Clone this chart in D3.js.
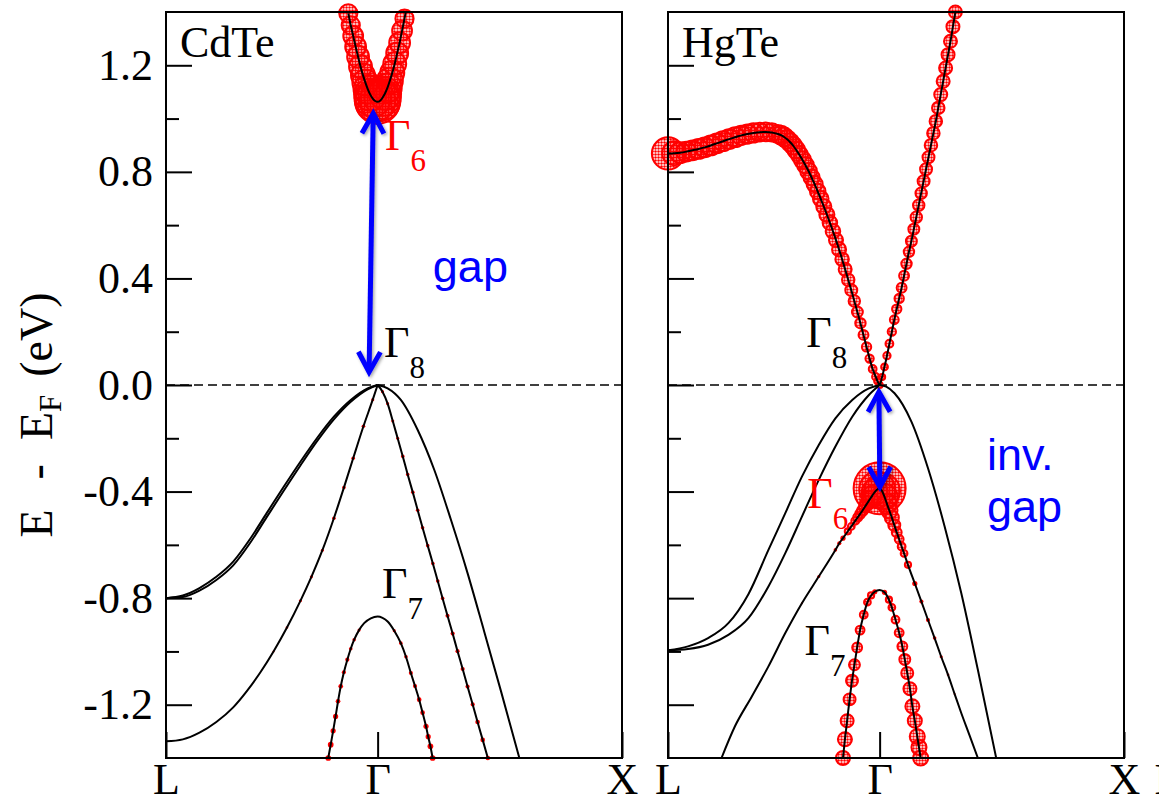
<!DOCTYPE html>
<html><head><meta charset="utf-8">
<script src="https://cdn.jsdelivr.net/npm/d3@7"></script>
<style>
body{margin:0;background:#fff}
svg{display:block}
.serif{font-family:"Liberation Serif","Times New Roman",serif}
.sans{font-family:"Liberation Sans",Arial,sans-serif}
</style></head><body>
<svg id="chart" width="1159" height="804"></svg>
<script>
// ---------------- data ----------------
const kPoints = [0, 0.866, 1.866];
const kLabels = ["L", "Γ", "X"];
const yMajor = [-1.2, -0.8, -0.4, 0, 0.4, 0.8, 1.2];
const yLabels = ["-1.2", "-0.8", "-0.4", "0.0", "0.4", "0.8", "1.2"];
const yMinor = [-1.0, -0.6, -0.2, 0.2, 0.6, 1.0];
const panelNames = ["CdTe", "HgTe"];

// CdTe conduction band (Γ6)
const cdteCB_k = [0.746,0.756,0.766,0.776,0.786,0.796,0.806,0.816,0.826,0.836,0.846,0.856,0.866,0.876,0.886,0.896,0.906,0.916,0.926,0.936,0.946,0.956,0.966,0.976,0.981];
const cdteCB_E = [1.395,1.35,1.31,1.27,1.232,1.195,1.163,1.135,1.11,1.09,1.075,1.066,1.063,1.067,1.078,1.094,1.115,1.142,1.172,1.206,1.245,1.285,1.33,1.375,1.40];
const cdteCB_w = [35,35,38,40,42,44,46,50,55,62,70,78,85,78,70,62,55,50,46,44,42,40,38,35,0];
// CdTe heavy holes (two nearly degenerate) L->Γ, and Γ->X
const cdteHH_k = [0,0.069,0.137,0.206,0.275,0.344,0.412,0.481,0.550,0.619,0.687,0.756,0.825,0.866];
const cdteHHa_E = [-0.80,-0.79,-0.762,-0.72,-0.663,-0.578,-0.481,-0.383,-0.288,-0.198,-0.119,-0.056,-0.0125,0];
const cdteHHb_E = [-0.80,-0.796,-0.772,-0.732,-0.677,-0.593,-0.496,-0.398,-0.302,-0.21,-0.129,-0.063,-0.016,0];
const cdteHHx_k = [0.866,0.907,0.961,1.030,1.098,1.166,1.234,1.302,1.371,1.446];
const cdteHHx_E = [0,-0.0125,-0.056,-0.169,-0.319,-0.506,-0.706,-0.925,-1.15,-1.40];
// CdTe light hole
const cdteLHl_k = [0,0.069,0.137,0.206,0.275,0.33,0.385,0.44,0.495,0.55,0.595,0.64,0.687,0.728,0.766,0.808,0.846,0.866];
const cdteLHl_E = [-1.3375,-1.33,-1.305,-1.265,-1.21,-1.15,-1.08,-1.0,-0.91,-0.81,-0.72,-0.62,-0.50,-0.385,-0.275,-0.155,-0.055,0];
const cdteLHl_w = [0,0,0,0,0,0,3,4,5,6,6,6,7,7,7,7,6,0];
const cdteLHx_k = [0.866,0.886,0.907,0.928,0.948,0.969,0.989,1.010,1.030,1.050,1.071,1.092,1.112,1.132,1.152,1.173,1.193,1.214,1.234,1.255,1.275,1.296,1.317];
const cdteLHx_E = [0,-0.025,-0.07,-0.135,-0.20,-0.268,-0.336,-0.403,-0.47,-0.536,-0.603,-0.67,-0.736,-0.801,-0.866,-0.933,-0.999,-1.066,-1.132,-1.199,-1.265,-1.332,-1.40];
const cdteLHx_w = [0,6,6,6,6,7,7,7,7,7,7,7,7,7,8,8,8,8,8,8,9,9,9];
// CdTe split-off (Γ7)
const cdteSO_k = [0.664,0.674,0.684,0.694,0.704,0.715,0.728,0.742,0.756,0.770,0.790,0.811,0.838,0.866,0.886,0.907,0.934,0.961,0.982,1.002,1.019,1.036,1.050,1.064,1.073,1.082,1.091];
const cdteSO_E = [-1.40,-1.35,-1.298,-1.244,-1.187,-1.131,-1.078,-1.031,-0.99,-0.956,-0.92,-0.894,-0.876,-0.869,-0.874,-0.8875,-0.922,-0.969,-1.02,-1.081,-1.13,-1.181,-1.23,-1.281,-1.32,-1.356,-1.40];
const cdteSO_w = [11,11,10,10,9,9,8,8,7,7,6,0,0,0,0,0,6,7,7,8,8,9,9,10,10,11,11];

// HgTe Γ8 conduction band, L->Γ and Γ->X
const hgteCBl_k = [0,0.025,0.05,0.075,0.10,0.125,0.15,0.175,0.20,0.225,0.25,0.275,0.30,0.325,0.35,0.375,0.40,0.425,0.45,
  0.4625,0.475,0.4875,0.50,0.5125,0.525,0.5375,0.55,0.5625,0.575,0.5875,0.60,0.6125,0.625,0.6375,0.65,0.6625,0.675,0.6875,0.70,0.7125,0.725,0.7375,0.75,0.7625,0.775,0.7875,0.80,0.8125,0.825,0.8375,0.85,0.8575,0.866];
const hgteCBl_E = [0.869,0.870,0.872,0.876,0.881,0.886,0.892,0.899,0.907,0.915,0.923,0.930,0.937,0.942,0.946,0.949,0.950,0.948,0.942,
  0.938,0.931,0.922,0.911,0.898,0.882,0.864,0.845,0.825,0.803,0.779,0.754,0.727,0.699,0.670,0.640,0.609,0.577,0.544,0.509,0.472,0.434,0.395,0.356,0.315,0.274,0.232,0.188,0.143,0.099,0.060,0.031,0.014,0];
const hgteCBl_w = [62,46,40,38,38,38,38,38,38,38,38,38,37,37,37,36,36,35,35,
  36,36,35,35,34,34,33,33,32,32,31,31,30,30,29,29,28,28,27,27,26,25,24,23,22,21,20,19,18,16,15,14,13,12];
const hgteCBr_k = [0.876,0.886,0.896,0.906,0.916,0.926,0.936,0.946,0.956,0.966,0.976,0.986,0.996,1.006,1.016,1.026,1.036,1.046,1.056,1.066,1.076,1.086,1.096,1.106,1.116,1.126,1.136,1.146,1.156,1.166,1.176];
const hgteCBr_E = [0.03,0.068,0.11,0.155,0.20,0.245,0.285,0.325,0.365,0.41,0.455,0.50,0.54,0.585,0.63,0.675,0.72,0.765,0.81,0.855,0.90,0.945,0.99,1.04,1.09,1.14,1.19,1.24,1.29,1.345,1.40];
const hgteCBr_w = [12,13,14,15,16,17,18,18,19,19,20,20,21,21,22,22,22,23,23,23,24,24,24,24,25,25,25,25,25,25,25];
// HgTe heavy holes
const hgteHH_k = [0,0.082,0.164,0.247,0.329,0.411,0.480,0.548,0.617,0.685,0.754,0.822,0.866];
const hgteHHa_E = [-0.996,-0.981,-0.950,-0.894,-0.785,-0.619,-0.481,-0.344,-0.225,-0.125,-0.056,-0.0125,0];
const hgteHHb_E = [-0.996,-0.991,-0.975,-0.938,-0.875,-0.756,-0.631,-0.494,-0.356,-0.231,-0.119,-0.0375,0];
const hgteHHx_k = [0.866,0.893,0.927,0.996,1.064,1.132,1.200,1.268,1.343];
const hgteHHx_E = [0,-0.006,-0.031,-0.1375,-0.3125,-0.531,-0.781,-1.069,-1.40];
// HgTe inverted Γ6 band
const hgteG6_k = [0.219,0.274,0.343,0.411,0.480,0.548,0.617,0.685,0.701,0.716,0.736,0.750,0.766,0.776,0.786,0.796,0.806,0.816,0.826,0.836,0.846,0.856,0.866,
  0.876,0.886,0.896,0.906,0.916,0.926,0.936,0.946,0.956,0.966,0.982,1.010,1.037,1.064,1.091,1.118,1.146,1.173,1.200,1.234,1.268];
const hgteG6_E = [-1.40,-1.281,-1.169,-1.056,-0.931,-0.819,-0.719,-0.619,-0.594,-0.575,-0.549,-0.531,-0.510,-0.497,-0.484,-0.471,-0.457,-0.443,-0.429,-0.415,-0.402,-0.392,-0.3875,
  -0.398,-0.420,-0.446,-0.472,-0.498,-0.526,-0.553,-0.579,-0.606,-0.632,-0.675,-0.745,-0.813,-0.882,-0.95,-1.02,-1.088,-1.16,-1.231,-1.315,-1.40];
const hgteG6_w = [0,0,0,0,0,4,6,7,8,10,12,13,15,17,19,21,23,27,31,38,50,69,100,
  69,50,38,31,27,23,19,17,15,13,12,10,8,8,7,6,5,4,0,0,0];
// HgTe split-off Γ7
const hgteG7_k = [0.716,0.724,0.733,0.743,0.753,0.763,0.774,0.786,0.801,0.816,0.831,0.846,0.866,
  0.886,0.904,0.916,0.931,0.946,0.959,0.969,0.979,0.990,1.000,1.010,1.020,1.027,1.034];
const hgteG7_E = [-1.40,-1.33,-1.26,-1.18,-1.11,-1.05,-0.985,-0.92,-0.862,-0.815,-0.79,-0.776,-0.769,
  -0.778,-0.806,-0.835,-0.881,-0.93,-0.981,-1.03,-1.081,-1.14,-1.206,-1.26,-1.319,-1.36,-1.40];
const hgteG7_w = [27,27,25,23,23,21,19,17,15,13,12,10,0,
  10,12,13,15,17,19,21,23,25,27,27,29,29,29];

// annotations (data coordinates)
const gammaSub   = ["6","8","7","8","6","7"];
const gammaPanel = [0,0,0,1,1,1];
const gammaK     = [0.896,0.892,0.884,0.566,0.570,0.559];
const gammaE     = [0.881,0.105,-0.80,0.144,-0.4625,-1.0125];
const noteText   = ["gap","inv.","gap"];
const notePanel  = [0,1,1];
const noteK      = [1.092,1.305,1.305];
const noteE      = [0.386,-0.319,-0.514];
const arrowPanel = [0,1];
const arrowK1 = [0.848,0.863], arrowE1 = [1.019,-0.026];
const arrowK2 = [0.831,0.867], arrowE2 = [0.049,-0.3825];

// ---------------- layout ----------------
const panelsPx = [[166,622],[668,1124]];
const topPx = 12, botPx = 758;
const svg = d3.select("#chart");
const y = d3.scaleLinear().domain([-1.4,1.4]).range([botPx, topPx]);
const xs = panelsPx.map(p => d3.scaleLinear().domain([0,1.866]).range(p));
const rScale = d3.scaleLinear().domain([0,100]).range([0,26]);
const RED = "#ff0000", BLUE = "#0000ff";

const defs = svg.append("defs");
const pat = defs.append("pattern").attr("id","dots").attr("patternUnits","userSpaceOnUse").attr("width",3).attr("height",3);
pat.append("circle").attr("cx",1.5).attr("cy",1.5).attr("r",1.25).attr("fill",RED);
const flt = defs.append("filter").attr("id","shadow").attr("x","-50%").attr("y","-20%").attr("width","200%").attr("height","140%");
flt.append("feDropShadow").attr("dx",1.5).attr("dy",1.5).attr("stdDeviation",1.5).attr("flood-color","#000").attr("flood-opacity",0.35);
panelsPx.forEach((p,i)=>{
  defs.append("clipPath").attr("id","clip"+i).append("rect")
    .attr("x",p[0]).attr("y",topPx).attr("width",p[1]-p[0]).attr("height",botPx-topPx);
});

function zip(k,e,w){ return k.map((kk,i)=>({k:kk,e:e[i],w:w?w[i]:0})); }

const bands = [
  [ zip(cdteCB_k,cdteCB_E,cdteCB_w), zip(cdteHH_k,cdteHHa_E), zip(cdteHH_k,cdteHHb_E), zip(cdteHHx_k,cdteHHx_E),
    zip(cdteLHl_k,cdteLHl_E,cdteLHl_w), zip(cdteLHx_k,cdteLHx_E,cdteLHx_w), zip(cdteSO_k,cdteSO_E,cdteSO_w) ],
  [ zip(hgteCBl_k.concat(hgteCBr_k), hgteCBl_E.concat(hgteCBr_E), hgteCBl_w.concat(hgteCBr_w)),
    zip(hgteHH_k,hgteHHa_E), zip(hgteHH_k,hgteHHb_E), zip(hgteHHx_k,hgteHHx_E),
    zip(hgteG6_k,hgteG6_E,hgteG6_w), zip(hgteG7_k,hgteG7_E,hgteG7_w) ]
];

panelsPx.forEach((p,pi)=>{
  const x = xs[pi];
  const g = svg.append("g");
  // zero (Fermi) line
  g.append("line").attr("x1",p[0]).attr("x2",p[1]).attr("y1",y(0)).attr("y2",y(0))
    .attr("stroke","#000").attr("stroke-width",1.6).attr("stroke-dasharray","9,5");
  // fat-band markers
  const mk = g.append("g");
  bands[pi].forEach(b=>{
    b.filter(d=>rScale(d.w)>=0.8).forEach(d=>{
      const r = rScale(d.w);
      const c = mk.append("circle").attr("cx",x(d.k)).attr("cy",y(d.e)).attr("r",r);
      if (r < 3) c.attr("fill",RED).attr("stroke","none");
      else c.attr("fill","url(#dots)").attr("stroke",RED).attr("stroke-width",2);
    });
  });
  // band lines
  const line = d3.line().x(d=>x(d.k)).y(d=>y(d.e)).curve(d3.curveMonotoneX);
  const lg = g.append("g").attr("clip-path","url(#clip"+pi+")");
  bands[pi].forEach(b=>{
    lg.append("path").attr("d",line(b)).attr("fill","none").attr("stroke","#000").attr("stroke-width",2);
  });
  // frame
  g.append("rect").attr("x",p[0]).attr("y",topPx).attr("width",p[1]-p[0]).attr("height",botPx-topPx)
    .attr("fill","none").attr("stroke","#000").attr("stroke-width",2);
  // y axis (major + minor, inward)
  const ya = g.append("g").attr("transform",`translate(${p[0]},0)`)
    .call(d3.axisLeft(y).tickValues(yMajor).tickSize(-26).tickPadding(13)
      .tickFormat((d,i)=> pi===0 ? yLabels[i] : ""));
  const ym = g.append("g").attr("transform",`translate(${p[0]},0)`)
    .call(d3.axisLeft(y).tickValues(yMinor).tickSize(-13).tickFormat(""));
  [ya,ym].forEach(a=>{ a.select(".domain").remove(); a.selectAll("line").attr("stroke-width",2); });
  ya.selectAll("text").attr("class","serif").attr("font-size",44).attr("fill","#000");
  // x axis (high symmetry points)
  const xa = g.append("g").attr("transform",`translate(0,${botPx})`)
    .call(d3.axisBottom(x).tickValues(kPoints).tickSize(-26).tickPadding(5).tickFormat((d,i)=>kLabels[i]));
  xa.select(".domain").remove();
  xa.selectAll("line").attr("stroke-width",2);
  xa.selectAll("text").attr("class","serif").attr("font-size",44).attr("fill","#000");
  // panel name
  g.append("text").attr("class","serif").attr("x",x(0.057)).attr("y",y(1.23))
    .attr("font-size",44).text(panelNames[pi]);
});
// next-panel L label (cut at right edge)
svg.append("text").attr("class","serif").attr("x",panelsPx[1][1]+44).attr("y",794)
  .attr("text-anchor","middle").attr("font-size",44).text(kLabels[0]);

// Γ labels
gammaSub.forEach((s,i)=>{
  const x = xs[gammaPanel[i]];
  const t = svg.append("text").attr("class","serif").attr("x",x(gammaK[i])).attr("y",y(gammaE[i]))
    .attr("font-size",44).attr("fill", s==="6" ? RED : "#000");
  t.append("tspan").text("Γ");
  t.append("tspan").attr("font-size",31).attr("dy",21).text(s);
});
// blue notes
noteText.forEach((s,i)=>{
  const x = xs[notePanel[i]];
  svg.append("text").attr("class","sans").attr("x",x(noteK[i])).attr("y",y(noteE[i]))
    .attr("font-size",45).attr("fill",BLUE).text(s);
});
// gap arrows
arrowPanel.forEach((pi,i)=>{
  const x = xs[pi];
  const x1 = x(arrowK1[i]), y1 = y(arrowE1[i]), x2 = x(arrowK2[i]), y2 = y(arrowE2[i]);
  const L = Math.hypot(x2-x1,y2-y1), ux=(x2-x1)/L, uy=(y2-y1)/L, nx=-uy, ny=ux;
  const hl = 20, hw = 11;
  const ag = svg.append("g").attr("filter","url(#shadow)").attr("stroke",BLUE).attr("fill","none")
    .attr("stroke-width",5).attr("stroke-linejoin","miter");
  ag.append("path").attr("d",`M${x1+ux*3},${y1+uy*3}L${x2-ux*3},${y2-uy*3}`);
  ag.append("path").attr("d",`M${x1+ux*hl+nx*hw},${y1+uy*hl+ny*hw}L${x1},${y1}L${x1+ux*hl-nx*hw},${y1+uy*hl-ny*hw}`);
  ag.append("path").attr("d",`M${x2-ux*hl+nx*hw},${y2-uy*hl+ny*hw}L${x2},${y2}L${x2-ux*hl-nx*hw},${y2-uy*hl-ny*hw}`);
});

// y-axis title
const yt = svg.append("text").attr("class","serif").attr("transform","translate(52,415) rotate(-90)")
  .attr("text-anchor","middle").attr("font-size",46).style("white-space","pre");
yt.append("tspan").text("E");
yt.append("tspan").attr("dx",30).text("-");
yt.append("tspan").attr("dx",24).text("E");
yt.append("tspan").attr("font-size",31).attr("dy",9).text("F");
yt.append("tspan").attr("dy",-9).attr("dx",18).text("(eV)");
</script>
</body></html>
